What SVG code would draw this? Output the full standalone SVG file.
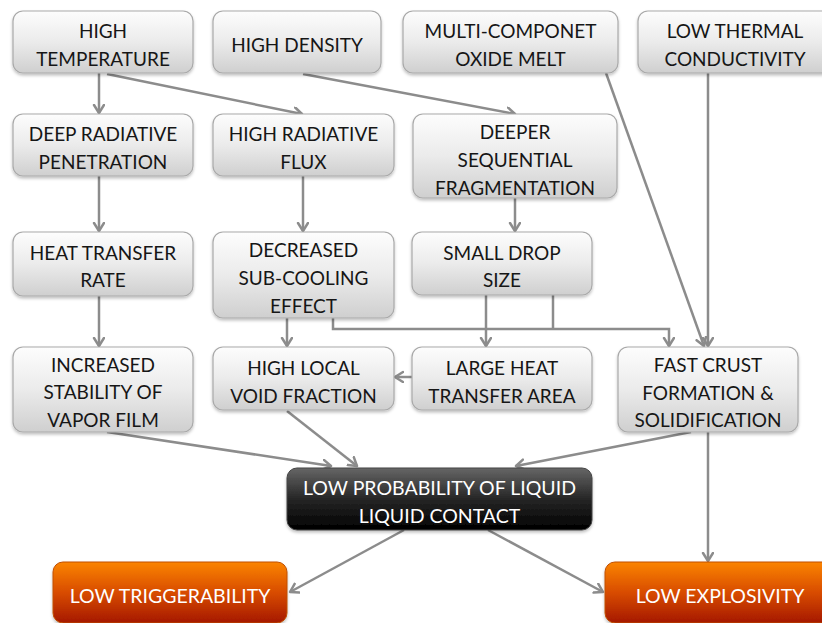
<svg xmlns="http://www.w3.org/2000/svg" width="822" height="623" viewBox="0 0 822 623">
<defs>
<linearGradient id="gGrey" x1="0" y1="0" x2="0" y2="1">
<stop offset="0" stop-color="#fdfdfd"/>
<stop offset="0.5" stop-color="#ebebeb"/>
<stop offset="1" stop-color="#cfcfcf"/>
</linearGradient>
<linearGradient id="gBlack" x1="0" y1="0" x2="0" y2="1">
<stop offset="0" stop-color="#666666"/>
<stop offset="0.5" stop-color="#262626"/>
<stop offset="1" stop-color="#000000"/>
</linearGradient>
<linearGradient id="gOrange" x1="0" y1="0" x2="0" y2="1">
<stop offset="0" stop-color="#fb8400"/>
<stop offset="0.5" stop-color="#d84c00"/>
<stop offset="1" stop-color="#a51800"/>
</linearGradient>
<filter id="sh" x="-10%" y="-10%" width="120%" height="130%">
<feDropShadow dx="0" dy="2" stdDeviation="1.5" flood-color="#000" flood-opacity="0.25"/>
</filter>
<marker id="ah" markerUnits="userSpaceOnUse" markerWidth="14" markerHeight="14" refX="9" refY="6" orient="auto">
<path d="M1,1 L9,6 L1,11" fill="none" stroke="#8c8c8c" stroke-width="2.5" stroke-linecap="round" stroke-linejoin="round"/>
</marker>
</defs>
<style>
.box{fill:url(#gGrey);stroke:#a9a9a9;stroke-width:1.2;filter:url(#sh)}
.dark{fill:url(#gBlack);stroke:#444;stroke-width:1;filter:url(#sh)}
.org{fill:url(#gOrange);stroke:#c05000;stroke-width:1;filter:url(#sh)}
text{font-family:Lato,"Liberation Sans",sans-serif;font-size:19px;fill:#161616;text-anchor:middle}
.w{fill:#ffffff;font-size:19.5px}
.c{fill:none;stroke:#8c8c8c;stroke-width:2.5}
.a{marker-end:url(#ah)}
</style>
<rect width="822" height="623" fill="#ffffff"/>
<g id="connectors">
<line class="c a" x1="99" y1="73" x2="99" y2="113"/>
<line class="c a" x1="107" y1="74" x2="302" y2="114"/>
<line class="c a" x1="303" y1="74" x2="515" y2="114"/>
<line class="c a" x1="606" y1="73" x2="704" y2="346"/>
<line class="c a" x1="708" y1="73" x2="708" y2="346"/>
<line class="c a" x1="99" y1="176" x2="99" y2="231"/>
<line class="c a" x1="303" y1="176" x2="303" y2="231"/>
<line class="c a" x1="515" y1="198" x2="515" y2="231"/>
<line class="c a" x1="99" y1="296" x2="99" y2="346"/>
<line class="c a" x1="287" y1="318" x2="287" y2="346"/>
<polyline class="c a" points="333,318 333,329 669,329 669,346"/>
<line class="c a" x1="486" y1="295" x2="486" y2="346"/>
<line class="c" x1="553" y1="295" x2="553" y2="329"/>
<line class="c a" x1="412" y1="377" x2="395" y2="377"/>
<line class="c a" x1="107" y1="432" x2="331" y2="466"/>
<line class="c a" x1="287" y1="411" x2="357" y2="466"/>
<line class="c a" x1="691" y1="432" x2="516" y2="466"/>
<line class="c a" x1="708" y1="432" x2="708" y2="561"/>
<line class="c a" x1="404" y1="530" x2="290" y2="592"/>
<line class="c a" x1="488" y1="530" x2="603" y2="592"/>
</g>
<g id="n_high_temperature"><rect class="box" x="13" y="11" width="180" height="62" rx="10"/><text x="103" y="38">HIGH</text><text x="103" y="66">TEMPERATURE</text></g>
<g id="n_high_density"><rect class="box" x="213" y="11" width="168" height="62" rx="10"/><text x="297" y="52">HIGH DENSITY</text></g>
<g id="n_multi_componet"><rect class="box" x="403" y="11" width="215" height="62" rx="10"/><text x="510.5" y="38">MULTI-COMPONET</text><text x="510.5" y="66">OXIDE MELT</text></g>
<g id="n_low_thermal"><rect class="box" x="638" y="11" width="194" height="62" rx="10"/><text x="735" y="38">LOW THERMAL</text><text x="735" y="66">CONDUCTIVITY</text></g>
<g id="n_deep_radiative"><rect class="box" x="13" y="114" width="180" height="62" rx="10"/><text x="103" y="141">DEEP RADIATIVE</text><text x="103" y="169">PENETRATION</text></g>
<g id="n_high_radiative_flux"><rect class="box" x="213" y="114" width="181" height="62" rx="10"/><text x="303.5" y="141">HIGH RADIATIVE</text><text x="303.5" y="169">FLUX</text></g>
<g id="n_deeper_sequential"><rect class="box" x="413" y="114" width="204" height="84" rx="10"/><text x="515" y="139">DEEPER</text><text x="515" y="167">SEQUENTIAL</text><text x="515" y="195">FRAGMENTATION</text></g>
<g id="n_heat_transfer_rate"><rect class="box" x="13" y="232" width="180" height="64" rx="10"/><text x="103" y="260">HEAT TRANSFER</text><text x="103" y="287">RATE</text></g>
<g id="n_decreased_subcooling"><rect class="box" x="213" y="232" width="181" height="86" rx="10"/><text x="303.5" y="257">DECREASED</text><text x="303.5" y="285">SUB-COOLING</text><text x="303.5" y="313">EFFECT</text></g>
<g id="n_small_drop"><rect class="box" x="412" y="232" width="180" height="63" rx="10"/><text x="502" y="260">SMALL DROP</text><text x="502" y="287">SIZE</text></g>
<g id="n_increased_stability"><rect class="box" x="13" y="347" width="180" height="85" rx="10"/><text x="103" y="372">INCREASED</text><text x="103" y="399">STABILITY OF</text><text x="103" y="427">VAPOR FILM</text></g>
<g id="n_high_local_void"><rect class="box" x="213" y="347" width="181" height="63" rx="10"/><text x="303.5" y="375">HIGH LOCAL</text><text x="303.5" y="403">VOID FRACTION</text></g>
<g id="n_large_heat_area"><rect class="box" x="412" y="347" width="180" height="63" rx="10"/><text x="502" y="375">LARGE HEAT</text><text x="502" y="403">TRANSFER AREA</text></g>
<g id="n_fast_crust"><rect class="box" x="618" y="347" width="180" height="85" rx="10"/><text x="708" y="372">FAST CRUST</text><text x="708" y="400">FORMATION &amp;</text><text x="708" y="427">SOLIDIFICATION</text></g>
<g id="n_low_probability"><rect class="dark" x="287" y="468" width="305" height="62" rx="10"/><text class="w" x="439.5" y="495">LOW PROBABILITY OF LIQUID</text><text class="w" x="439.5" y="523">LIQUID CONTACT</text></g>
<g id="n_low_triggerability"><rect class="org" x="53" y="562" width="234" height="61" rx="10"/><text class="w" x="170" y="603">LOW TRIGGERABILITY</text></g>
<g id="n_low_explosivity"><rect class="org" x="605" y="562" width="230" height="61" rx="10"/><text class="w" x="720" y="603">LOW EXPLOSIVITY</text></g>
</svg>
